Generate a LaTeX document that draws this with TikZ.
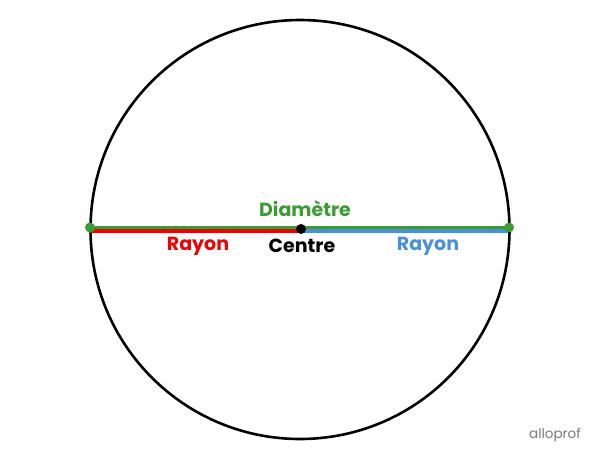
\documentclass[tikz,border=0pt]{standalone}
\usepackage{fontspec}
\setmainfont{Poppins}
\definecolor{dgreen}{RGB}{60,155,53}
\definecolor{rred}{RGB}{240,0,0}
\definecolor{rblue}{RGB}{74,144,217}
\definecolor{logo}{RGB}{120,120,120}
\begin{document}
\begin{tikzpicture}[x=1pt,y=-1pt,
  lbl/.style={font=\fontsize{19}{22}\selectfont\bfseries, inner sep=0pt},
  seg/.style={line width=3.5pt},
  dot/.style={circle, fill, inner sep=0pt, minimum size=10pt}]
\useasboundingbox (0,0) rectangle (600,459);
\fill[white] (0,0) rectangle (600,459);
\coordinate (O) at (300,229.5);
\draw[line width=2.6pt] (O) circle (209.5);
\coordinate (L) at (90,227.5);
\coordinate (R) at (509,227.5);
\coordinate (Lr) at (90,231);
\coordinate (Rb) at (508,231);
\coordinate (Cl) at (301,231);
\draw[seg, rred] (Lr) -- (Cl);
\draw[seg, rblue] (Cl) -- (Rb);
\draw[seg, dgreen] (L) -- (R);
\node[dot, dgreen] (dl) at (L) {};
\node[dot, dgreen] (dr) at (R) {};
\node[dot, black] (c) at (301,229) {};
\node[lbl, text=dgreen] (diam) at (305,209) {Diamètre};
\node[lbl, text=rred] (r1) at (198,246.5) {Rayon};
\node[lbl, text=black] (centre) at (302,245.5) {Centre};
\node[lbl, text=rblue] (r2) at (428,246.5) {Rayon};
\node[font=\fontsize{13.5}{16}\selectfont, text=logo, inner sep=0pt] (logo) at (555,435) {alloprof};
\end{tikzpicture}
\end{document}
